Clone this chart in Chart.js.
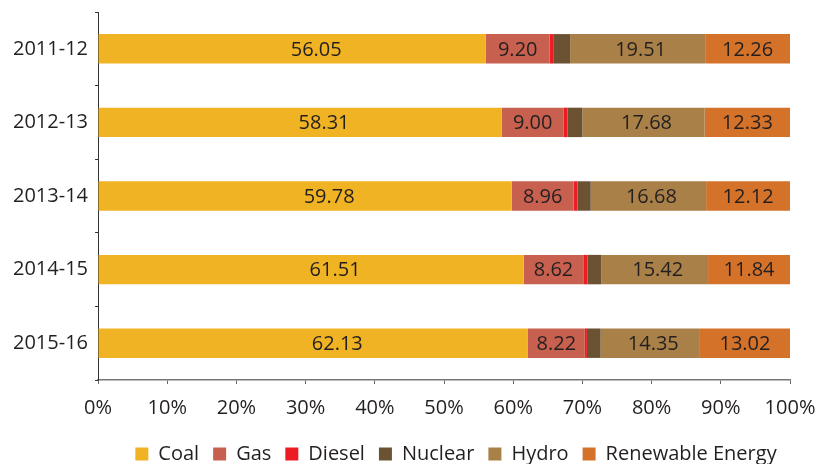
<!DOCTYPE html>
<html>
<head>
<meta charset="utf-8">
<script src="https://cdn.jsdelivr.net/npm/chart.js@4/dist/chart.umd.min.js"></script>
<style>
html,body{margin:0;padding:0;background:#fff;}
#wrap{width:822px;height:464px;}
</style>
</head>
<body>
<div id="wrap"><canvas id="c" width="822" height="464"></canvas></div>
<script>
const categories = ['2011-12', '2012-13', '2013-14', '2014-15', '2015-16'];
const coal = [56.05, 58.31, 59.78, 61.51, 62.13];
const gas = [9.20, 9.00, 8.96, 8.62, 8.22];
const diesel = [0.62, 0.55, 0.55, 0.62, 0.30];
const nuclear = [2.36, 2.13, 1.91, 1.99, 1.98];
const hydro = [19.51, 17.68, 16.68, 15.42, 14.35];
const renewable = [12.26, 12.33, 12.12, 11.84, 13.02];
const xTicks = [0, 10, 20, 30, 40, 50, 60, 70, 80, 90, 100];

const FONT = "'Open Sans', 'Noto Sans', sans-serif";
const TXT = '#231f20';

const series = [
  {label: 'Coal', data: coal, color: '#F0B323', show: true, dx: 24},
  {label: 'Gas', data: gas, color: '#C8604F', show: true, dx: 0},
  {label: 'Diesel', data: diesel, color: '#ED1C24', show: false, dx: 0},
  {label: 'Nuclear', data: nuclear, color: '#6B5233', show: false, dx: 0},
  {label: 'Hydro', data: hydro, color: '#A98047', show: true, dx: 3},
  {label: 'Renewable Energy', data: renewable, color: '#D4722A', show: true, dx: 0}
];

const labelPlugin = {
  id: 'segLabels',
  afterDatasetsDraw(chart) {
    const ctx = chart.ctx;
    ctx.save();
    ctx.font = "20px " + FONT;
    ctx.fillStyle = TXT;
    ctx.textAlign = 'center';
    ctx.textBaseline = 'middle';
    chart.data.datasets.forEach((ds, i) => {
      if (!series[i].show) return;
      const meta = chart.getDatasetMeta(i);
      meta.data.forEach((bar, j) => {
        const x = (bar.x + bar.base) / 2 + series[i].dx;
        ctx.fillText(ds.data[j].toFixed(2), x, bar.y + 1);
      });
    });
    ctx.restore();
  }
};

const legendShift = {
  id: 'legendShift',
  afterLayout(chart) {
    const lg = chart.legend;
    if (!lg) return;
    const dy = 452 - (lg.top + lg.height / 2);
    lg.top += dy;
    lg.bottom += dy;
    const dx = 456 - (lg.left + lg.right) / 2;
    lg.left += dx;
    lg.right += dx;
  }
};

new Chart(document.getElementById('c'), {
  type: 'bar',
  data: {
    labels: categories,
    datasets: series.map(s => ({
      label: s.label,
      data: s.data,
      backgroundColor: s.color,
      borderWidth: 0,
      barPercentage: 0.40,
      categoryPercentage: 1.0
    }))
  },
  options: {
    indexAxis: 'y',
    responsive: false,
    animation: false,
    layout: {padding: {top: 12, right: 32, left: 6, bottom: -12}},
    scales: {
      x: {
        stacked: true,
        min: 0, max: 100,
        afterBuildTicks(axis) { axis.ticks = xTicks.map(v => ({value: v})); },
        afterFit(axis) { axis.paddingLeft = 0; axis.paddingRight = 0; },
        ticks: {
          callback: v => v + '%',
          color: TXT,
          font: {family: FONT, size: 20},
          padding: 12,
          maxRotation: 0
        },
        grid: {drawOnChartArea: false, drawTicks: true, tickLength: 4, color: '#666', offset: false},
        border: {color: '#777', width: 1.5}
      },
      y: {
        stacked: true,
        afterFit(axis) { axis.paddingTop = 0; axis.paddingBottom = 0; },
        ticks: {color: TXT, font: {family: FONT, size: 20}, padding: 7},
        grid: {drawOnChartArea: false, drawTicks: true, tickLength: 3, color: '#333', offset: true},
        border: {color: '#333', width: 1}
      }
    },
    plugins: {
      legend: {
        position: 'bottom',
        labels: {
          color: TXT,
          font: {family: FONT, size: 20},
          boxWidth: 13,
          boxHeight: 13,
          padding: 14
        }
      },
      tooltip: {enabled: false}
    }
  },
  plugins: [labelPlugin, legendShift]
});
</script>
</body>
</html>
